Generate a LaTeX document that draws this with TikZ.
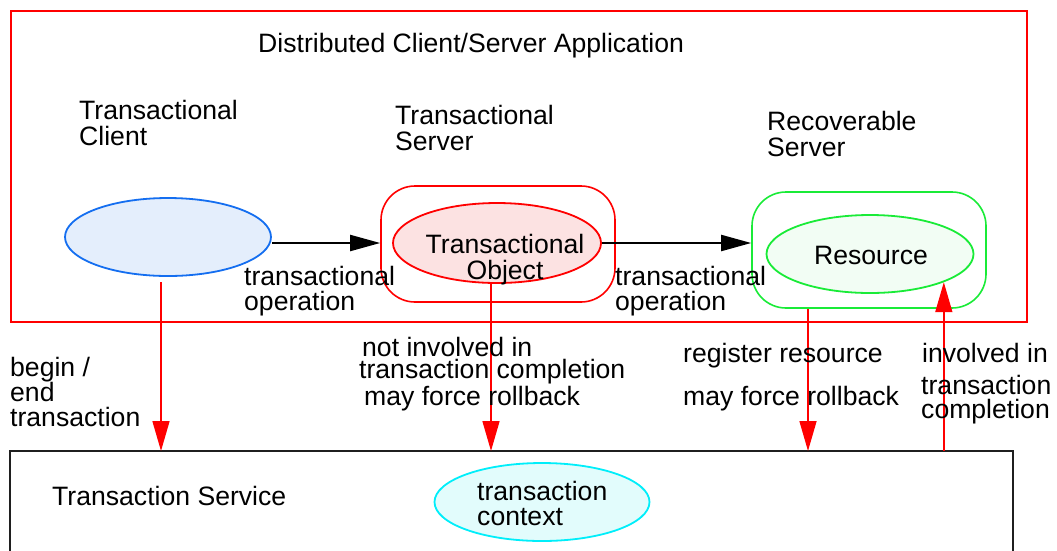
\documentclass[tikz,border=0pt]{standalone}
\usepackage{fontspec}
\setmainfont{Liberation Sans}
\usetikzlibrary{shapes.geometric,arrows.meta}
\definecolor{cltblue}{RGB}{20,110,240}
\definecolor{cltfill}{RGB}{228,238,252}
\definecolor{objfill}{RGB}{252,226,226}
\definecolor{resgreen}{RGB}{25,235,55}
\definecolor{resfill}{RGB}{242,253,244}
\definecolor{ctxcyan}{RGB}{0,238,250}
\definecolor{ctxfill}{RGB}{226,252,252}
\newcommand\labfont{\fontsize{26.6}{26}\selectfont}
\begin{document}
\begin{tikzpicture}[x=1pt,y=-1pt,
  lbl/.style={anchor=base west,inner sep=0pt,font=\labfont},
  clbl/.style={anchor=base,inner sep=0pt,font=\labfont},
  oval/.style={ellipse,inner sep=0pt,line width=1.8pt},
  srvbox/.style={rectangle,rounded corners=34pt,inner sep=0pt,line width=1.6pt,
    minimum width=234pt,minimum height=116pt},
  callarr/.style={line width=2pt,-{Triangle[length=30pt,width=16pt]}},
  otsarr/.style={red,line width=1.5pt,-{Triangle[length=30pt,width=17pt]}}]
\useasboundingbox (0,0) rectangle (1057,550);

% application frame
\node[draw=red,line width=2pt,inner sep=0pt,anchor=north west,
  minimum width=1016pt,minimum height=311pt] (app) at (10,10) {};
\node[lbl] (apptitle) at (258,52) {Distributed Client/Server Application};

% transaction service frame (open at the bottom)
\node[inner sep=0pt,anchor=north west,minimum width=1003pt,minimum height=130pt] (ots) at (10,451) {};
\draw[line width=2pt,black!88] (ots.south west) -- (ots.north west) -- (ots.north east) -- (ots.south east);
\node[lbl] (otstitle) at (52,505) {Transaction Service};

% client
\node[lbl] (clt1) at (79,119) {Transactional};
\node[lbl] (clt2) at (79,145) {Client};
\node[oval,draw=cltblue,fill=cltfill,minimum width=206pt,minimum height=78pt] (client) at (168,237) {};

% transactional server
\node[lbl] (ts1) at (395,124) {Transactional};
\node[lbl] (ts2) at (395,150) {Server};
\node[srvbox,draw=red] (tserver) at (498,244) {};
\node[oval,draw=red,fill=objfill,minimum width=208pt,minimum height=80pt] (tobj) at (497,243) {};
\node[clbl] (obj1) at (505,253) {Transactional};
\node[clbl] (obj2) at (505,279) {Object};

% recoverable server
\node[lbl] (rs1) at (767,130) {Recoverable};
\node[lbl] (rs2) at (767,156) {Server};
\node[srvbox,draw=resgreen] (rserver) at (869,250) {};
\node[oval,draw=resgreen,fill=resfill,minimum width=207pt,minimum height=78pt] (res) at (870,254) {};
\node[clbl] (restxt) at (871,264) {Resource};

% transaction context
\node[oval,draw=ctxcyan,fill=ctxfill,minimum width=215pt,minimum height=78pt] (ctx) at (542,502) {};
\node[lbl] (ctx1) at (477,500) {transaction};
\node[lbl] (ctx2) at (477,525) {context};

% transactional operations
\draw[callarr] (client.east |- tobj.east) -- (tserver.west |- tobj.east);
\draw[callarr] (tobj.east) -- (tobj.east -| rserver.west);
\node[lbl] (op1a) at (244,285) {transactional};
\node[lbl] (op1b) at (244,310) {operation};
\node[lbl] (op2a) at (615,285) {transactional};
\node[lbl] (op2b) at (615,310) {operation};

% interactions with the transaction service
\coordinate (cltout) at (161,282);
\draw[otsarr] (cltout) -- (cltout |- ots.north);
\draw[otsarr] ([xshift=-6pt]tobj.south) -- ([xshift=-6pt]tobj.south |- ots.north);
\draw[otsarr] ([xshift=-61pt]rserver.south) -- ([xshift=-61pt]rserver.south |- ots.north);
\draw[otsarr] (res.south east |- ots.north) -- (res.south east);

\node[lbl] (be1) at (10,376) {begin /};
\node[lbl] (be2) at (10,401) {end};
\node[lbl] (be3) at (10,426) {transaction};

\node[lbl] (ni1) at (362,356) {not involved in};
\node[lbl] (ni2) at (359,378) {transaction completion};
\node[lbl] (ni3) at (364,405) {may force rollback};

\node[lbl] (rr1) at (683,362) {register resource};
\node[lbl] (rr2) at (683,405) {may force rollback};

\node[lbl] (iv1) at (922,362) {involved in};
\node[lbl] (iv2) at (921,394) {transaction};
\node[lbl] (iv3) at (921,418) {completion};
\end{tikzpicture}
\end{document}
